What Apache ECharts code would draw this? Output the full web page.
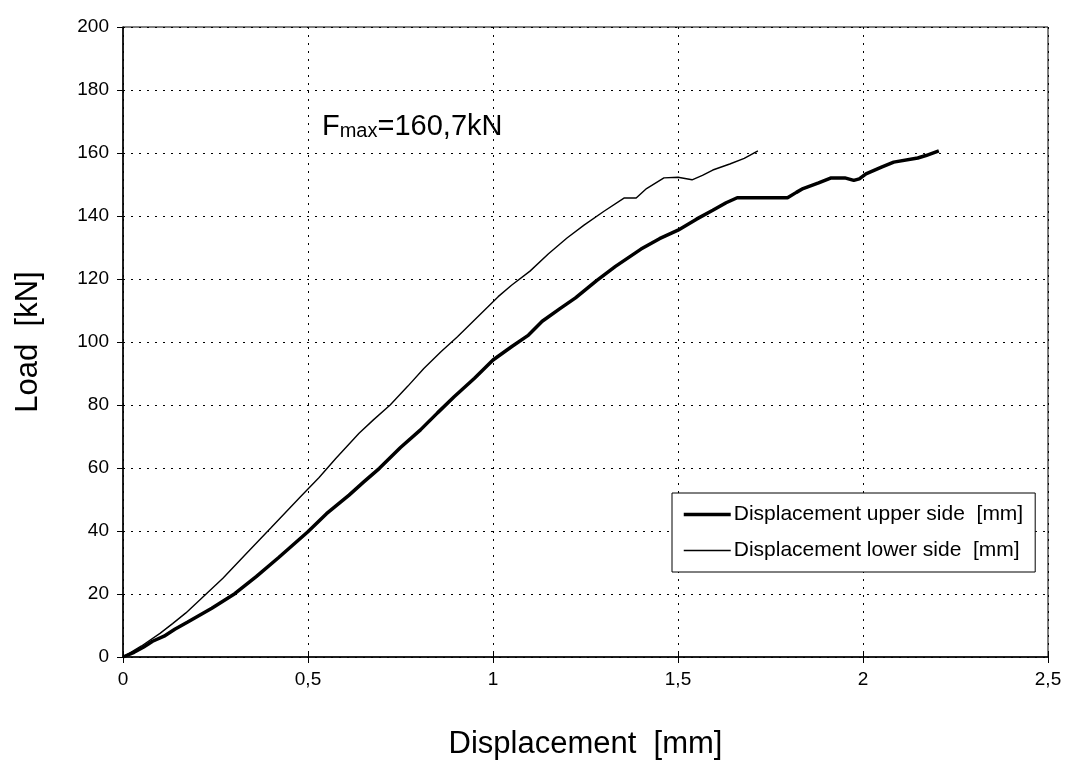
<!DOCTYPE html>
<html>
<head>
<meta charset="utf-8">
<script src="https://cdn.jsdelivr.net/npm/echarts@6/dist/echarts.min.js"></script>
<style>
html,body{margin:0;padding:0;background:#fff;}
#c{width:1072px;height:765px;}
</style>
</head>
<body>
<div id="c"></div>
<script>
// Tick values
const xTicks = [0, 0.5, 1, 1.5, 2, 2.5];
const yTicks = [0, 20, 40, 60, 80, 100, 120, 140, 160, 180, 200];

// Series names
const seriesNames = ['Displacement upper side  [mm]', 'Displacement lower side  [mm]'];

// Displacement upper side (thick line)
const upperX = [0, 0.03, 0.056, 0.08, 0.111, 0.14, 0.175, 0.24, 0.302, 0.36, 0.42, 0.499, 0.55, 0.611, 0.65, 0.693, 0.75, 0.804, 0.85, 0.895, 0.95, 1.0, 1.05, 1.096, 1.133, 1.18, 1.223, 1.28, 1.331, 1.4, 1.45, 1.5, 1.55, 1.594, 1.63, 1.66, 1.796, 1.82, 1.838, 1.88, 1.914, 1.951, 1.975, 1.99, 2.008, 2.05, 2.083, 2.148, 2.17, 2.205];
const upperY = [0, 1.5, 3.2, 5.0, 6.6, 8.8, 11.1, 15.5, 20.1, 25.5, 31.5, 39.7, 45.5, 51.4, 55.5, 59.9, 66.5, 72.1, 77.5, 82.6, 88.5, 94.3, 98.5, 102.2, 106.6, 110.5, 114.0, 119.5, 124.0, 129.5, 132.8, 135.5, 139.0, 141.8, 144.2, 145.8, 145.8, 147.5, 148.7, 150.5, 152.1, 152.1, 151.3, 151.8, 153.4, 155.5, 157.1, 158.4, 159.2, 160.7];

// Displacement lower side (thin line)
const lowerX = [0, 0.05, 0.1, 0.134, 0.17, 0.211, 0.27, 0.329, 0.4, 0.479, 0.53, 0.575, 0.638, 0.676, 0.722, 0.77, 0.813, 0.86, 0.904, 0.95, 1.014, 1.05, 1.1, 1.15, 1.2, 1.246, 1.3, 1.354, 1.387, 1.415, 1.462, 1.5, 1.538, 1.566, 1.594, 1.64, 1.679, 1.716];
const lowerY = [0, 3.5, 7.5, 10.6, 14.0, 18.5, 25.0, 32.3, 41.0, 50.8, 57.0, 63.0, 71.0, 75.2, 80.0, 86.0, 91.6, 97.0, 101.7, 107.0, 114.4, 118.0, 122.5, 128.0, 133.0, 137.1, 141.5, 145.7, 145.7, 148.7, 152.1, 152.3, 151.5, 152.9, 154.6, 156.5, 158.3, 160.7];

const pairs = (xs, ys) => xs.map((x, i) => [x, ys[i]]);
const fmt = v => String(v).replace('.', ',');
const FONT = 'Liberation Sans, Arial, sans-serif';
const THICK = 3.5, THIN = 1.4;

const chart = echarts.init(document.getElementById('c'), null, {renderer: 'canvas'});
chart.setOption({
  animation: false,
  backgroundColor: '#fff',
  textStyle: {fontFamily: FONT, color: '#000'},
  grid: {left: 123, right: 24, top: 27, bottom: 108, show: true, borderColor: '#000', borderWidth: 1, containLabel: false},
  legend: {
    data: [
      {name: seriesNames[0], lineStyle: {width: THICK}},
      {name: seriesNames[1], lineStyle: {width: THIN}}
    ],
    orient: 'vertical',
    left: 672, top: 493,
    padding: [11, 12, 11, 10],
    itemWidth: 47, itemHeight: 14, itemGap: 15,
    itemStyle: {opacity: 0},
    backgroundColor: '#fff',
    borderColor: '#000', borderWidth: 1, borderRadius: 0,
    textStyle: {fontSize: 21, color: '#000', fontFamily: FONT, padding: [0, 0, 0, -2]},
    selectedMode: false
  },
  xAxis: [{
    type: 'value', min: xTicks[0], max: xTicks[xTicks.length - 1], interval: 0.5,
    name: 'Displacement  [mm]', nameLocation: 'middle', nameGap: 72,
    nameTextStyle: {fontSize: 31, color: '#000', fontFamily: FONT},
    axisLine: {show: true, onZero: false, lineStyle: {color: '#000', width: 1.5}},
    axisTick: {show: true, inside: false, length: 6, lineStyle: {color: '#000', width: 1}},
    axisLabel: {fontSize: 19, color: '#000', margin: 13, formatter: fmt, fontFamily: FONT},
    splitLine: {show: true, lineStyle: {color: '#000', width: 1, type: [2, 6]}}
  }, {
    type: 'value', min: xTicks[0], max: xTicks[xTicks.length - 1], interval: 0.5, position: 'bottom',
    axisLine: {show: false},
    axisTick: {show: true, inside: true, length: 6, lineStyle: {color: '#000', width: 1}},
    axisLabel: {show: false}, splitLine: {show: false}
  }],
  yAxis: {
    type: 'value', min: yTicks[0], max: yTicks[yTicks.length - 1], interval: 20,
    name: 'Load  [kN]', nameLocation: 'middle', nameGap: 79,
    nameTextStyle: {fontSize: 31, color: '#000', fontFamily: FONT},
    axisLine: {show: true, lineStyle: {color: '#000', width: 1.5}},
    axisTick: {show: true, inside: false, length: 6, lineStyle: {color: '#000', width: 1}},
    axisLabel: {fontSize: 19, color: '#000', margin: 14, fontFamily: FONT},
    splitLine: {show: true, lineStyle: {color: '#000', width: 1, type: [2, 6]}}
  },
  graphic: [{
    type: 'text', left: 322, top: 112,
    style: {
      text: '{f|F}{s|max}{f|=160,7kN}',
      rich: {
        f: {fontSize: 29, fontFamily: FONT, fill: '#000', verticalAlign: 'bottom', lineHeight: 32},
        s: {fontSize: 20, fontFamily: FONT, fill: '#000', verticalAlign: 'bottom', lineHeight: 24}
      }
    }
  }],
  series: [{
    name: seriesNames[0], type: 'line', data: pairs(upperX, upperY),
    symbol: 'none', lineStyle: {color: '#000', width: THICK}, itemStyle: {color: '#000'}, z: 3
  }, {
    name: seriesNames[1], type: 'line', data: pairs(lowerX, lowerY),
    symbol: 'none', lineStyle: {color: '#000', width: THIN}, itemStyle: {color: '#000'}, z: 3
  }]
});
</script>
</body>
</html>
